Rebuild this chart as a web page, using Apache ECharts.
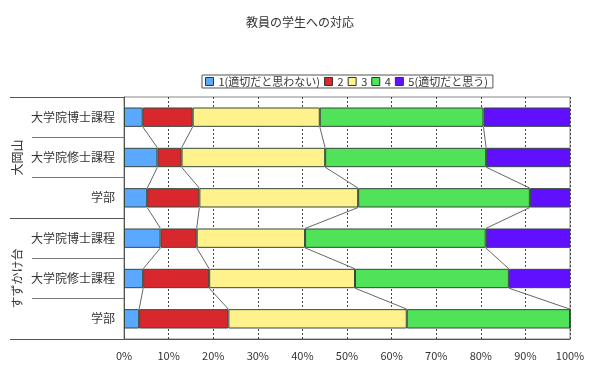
<!DOCTYPE html>
<html>
<head>
<meta charset="utf-8">
<script src="https://cdn.jsdelivr.net/npm/echarts@6/dist/echarts.min.js"></script>
<style>
html,body{margin:0;padding:0;background:#fff;}
#chart{width:600px;height:374px;}
</style>
</head>
<body>
<div id="chart"></div>
<script>
var titleText = '教員の学生への対応';
var categories = ['大学院博士課程','大学院修士課程','学部','大学院博士課程','大学院修士課程','学部'];
var groups = ['大岡山','すずかけ台'];
var seriesNames = ['1(適切だと思わない)','2','3','4','5(適切だと思う)'];
var level1 = [4.2, 7.5, 5.2, 8.2, 4.3, 3.4];
var level2 = [11.2, 5.4, 11.7, 8.1, 14.8, 20.0];
var level3 = [28.5, 32.2, 35.6, 24.3, 32.7, 40.0];
var level4 = [36.7, 36.1, 38.5, 40.5, 34.5, 36.6];
var level5 = [19.4, 18.8, 9.0, 18.9, 13.7, 0];
var xTicks = [0,10,20,30,40,50,60,70,80,90,100];

var levels = [level1, level2, level3, level4, level5];
var colors = ['#5aa8ff','#d8282e','#fff28c','#50e35a','#6010ff'];
var font = '"Noto Sans CJK JP", sans-serif';
var gapPct = 52;

var cum = categories.map(function(c, i){
  var s = 0, arr = [];
  for (var k = 0; k < levels.length; k++){ s += levels[k][i]; arr.push(s); }
  return arr;
});

var chart = echarts.init(document.getElementById('chart'));
var series = seriesNames.map(function(name, k){
  return {
    name: name, type: 'bar', stack: 'total', yAxisIndex: 0,
    barCategoryGap: gapPct + '%',
    data: levels[k],
    itemStyle: {color: colors[k], borderColor: '#34483a', borderWidth: 1},
    emphasis: {disabled: true}
  };
});
series.push({
  type: 'custom', yAxisIndex: 0, silent: true, z: 1,
  data: categories.slice(0, categories.length - 1).map(function(c, i){ return [0, i]; }),
  encode: {x: 0, y: 1},
  renderItem: function(params, api){
    var i = params.dataIndex;
    var band = api.size([0, 1])[1];
    var half = band * (1 - gapPct/100) / 2;
    var children = [];
    for (var k = 0; k < levels.length - 1; k++){
      var p1 = api.coord([cum[i][k], i]);
      var p2 = api.coord([cum[i+1][k], i+1]);
      children.push({type:'line', shape:{x1:p1[0], y1:p1[1]+half, x2:p2[0], y2:p2[1]-half},
        style:{stroke:'#666', lineWidth:1}});
    }
    return {type:'group', children: children};
  }
});

chart.setOption({
  backgroundColor: '#fff',
  animation: false,
  title: {text: titleText, left: 'center', top: 11,
    textStyle: {fontSize: 12, fontWeight: 'normal', color: '#333', fontFamily: font}},
  legend: {
    data: seriesNames, left: 202, top: 75, orient: 'horizontal',
    itemWidth: 8, itemHeight: 8, itemGap: 4, icon: 'rect',
    padding: [1, 5, 1, 3], borderColor: '#555', borderWidth: 1,
    itemStyle: {borderColor: '#333', borderWidth: 1},
    textStyle: {fontSize: 11, color: '#333', fontFamily: font}
  },
  grid: {left: 124, right: 30, top: 97, bottom: 35, show: true, borderColor: '#888', borderWidth: 1, backgroundColor: '#fff'},
  xAxis: {
    type: 'value', min: 0, max: 100, interval: 10,
    axisLine: {show: true, lineStyle: {color: '#555'}},
    axisTick: {show: false},
    splitLine: {show: true, lineStyle: {color: '#444', type: [2, 2], width: 1}},
    axisLabel: {formatter: function(v){ return xTicks.indexOf(v) >= 0 ? v + '%' : ''; },
      fontSize: 11, color: '#333', margin: 11, fontFamily: font}
  },
  yAxis: [{
    type: 'category', data: categories, inverse: true,
    axisLine: {show: true, lineStyle: {color: '#555'}},
    axisTick: {show: true, length: 92, lineStyle: {color: '#777'}},
    axisLabel: {fontSize: 12, color: '#333', margin: 9, fontFamily: font},
    splitLine: {show: false}
  }, {
    type: 'category', data: groups, inverse: true, position: 'left', offset: 114,
    axisLine: {show: false},
    axisTick: {show: true, inside: true, length: 114, lineStyle: {color: '#555'}},
    axisLabel: {inside: true, rotate: 90, margin: 1, fontSize: 12, color: '#333', fontFamily: font},
    splitLine: {show: false}
  }],
  series: series
});
</script>
</body>
</html>
